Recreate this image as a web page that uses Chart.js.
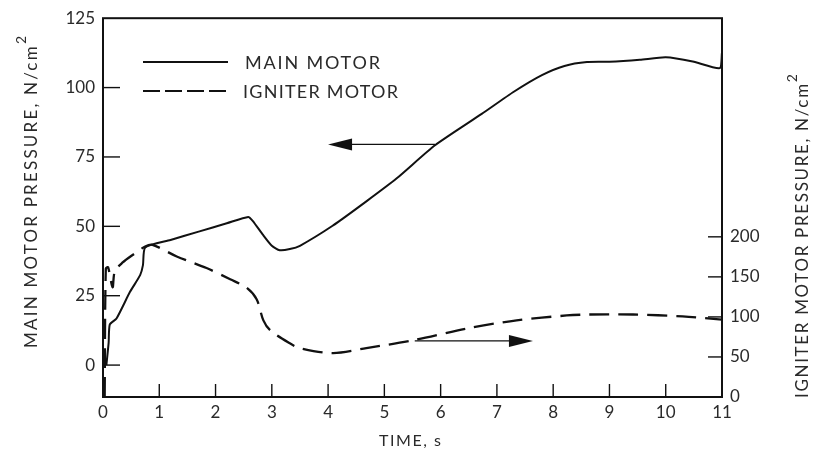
<!DOCTYPE html>
<html><head><meta charset="utf-8">
<script src="https://cdn.jsdelivr.net/npm/chart.js@4/dist/chart.umd.min.js"></script>
<style>html,body{margin:0;padding:0;background:#fff;}#wrap{width:820px;height:462px;}</style>
</head><body><div id="wrap"><canvas id="c" width="820" height="462"></canvas></div>
<script>
// ---- data ----
const mainTime     = [0.06, 0.10, 0.12, 0.24, 0.48, 0.66, 0.71, 0.75, 1.20, 1.70, 2.20, 2.58, 2.66, 2.84, 3.00, 3.14, 3.32, 3.50, 4.08, 4.68, 5.22, 5.90, 6.73, 7.30, 7.80, 8.20, 8.60, 9.00, 9.54, 10.00, 10.48, 10.96, 10.999];
const mainPressure = [0,    8,    14.6, 16.8, 26.4, 32.4, 36.0, 42.4, 45.1, 48.1, 51.1, 53.4, 52.0, 47.0, 43.0, 41.4, 41.8, 43.0, 50.2, 59.0, 67.3, 79.2, 90.5, 98.5, 104.5, 107.8, 109.2, 109.3, 110.0, 110.9, 109.4, 107.0, 112.5];
const igniterTime     = [0.03, 0.05, 0.09, 0.17, 0.21, 0.35, 0.54, 0.75, 0.88, 1.31, 1.84, 2.26, 2.55, 2.73, 2.85, 2.97, 3.32, 3.50, 4.09, 4.68, 5.54, 6.46, 7.35, 8.24, 8.65, 9.42, 10.30, 11.00];
const igniterPressure = [0,    160,  162,  137,  157,  168,  178,  188,  190,  175.5, 161, 147, 136.6, 122, 95.7, 83.4, 67, 61, 54.8, 61, 71.2, 85.5, 95.7, 101.8, 103, 103, 100.6, 96.6];
const timeTicks    = [0,1,2,3,4,5,6,7,8,9,10,11];
const mainTicks    = [0,25,50,75,100,125];
const igniterTicks = [0,50,100,150,200];
const seriesNames  = ['MAIN MOTOR', 'IGNITER MOTOR'];
const xTitle   = 'TIME, s';
const yTitle   = 'MAIN MOTOR PRESSURE, N/cm';
const y2Title  = 'IGNITER MOTOR PRESSURE, N/cm';
const unitSup  = '2';
// arrow annotations in data coordinates: [fromX, toX, y, axis]
const arrowLeft  = [5.90, 4.00, 79.5, 'y'];
const arrowRight = [5.54, 7.64, 70.0, 'y2'];

const FONT = "Lato, 'DejaVu Sans', sans-serif";
const INK = '#111';
const TXT = '#2a2a2a';

const mainPts = mainTime.map((t,i)=>({x:t, y:mainPressure[i]}));
const ignPts  = igniterTime.map((t,i)=>({x:t, y:igniterPressure[i]}));

function line(ctx,x1,y1,x2,y2){ctx.beginPath();ctx.moveTo(x1,y1);ctx.lineTo(x2,y2);ctx.stroke();}

// draws text (optionally with a superscript) spread to a target length, centred at (cx,cy)
function spreadText(ctx, text, sup, cx, cy, rot, size, target){
  ctx.save();
  ctx.translate(cx,cy); ctx.rotate(rot);
  ctx.textBaseline='middle'; ctx.textAlign='left';
  const supSize = Math.round(size*0.85);
  ctx.letterSpacing='0px';
  ctx.font = size+'px '+FONT;
  const w1 = ctx.measureText(text).width;
  ctx.font = supSize+'px '+FONT;
  const w2 = sup ? ctx.measureText(sup).width : 0;
  const n = text.length + (sup?1:0) - 1;
  const sp = Math.max(0,(target - w1 - w2)/n);
  ctx.letterSpacing = sp.toFixed(2)+'px';
  ctx.font = size+'px '+FONT;
  const x0 = -target/2;
  ctx.fillText(text, x0, 0);
  if(sup){
    const wm = ctx.measureText(text).width;
    ctx.font = supSize+'px '+FONT;
    ctx.fillText(sup, x0+wm, -size*0.62);
  }
  ctx.restore();
}

const decor = {
  id:'decor',
  afterDatasetsDraw(chart){
    const {ctx, chartArea:a, scales} = chart;
    ctx.save();
    // frame
    ctx.strokeStyle = INK; ctx.lineWidth = 2;
    ctx.strokeRect(a.left, a.top, a.right-a.left, a.bottom-a.top);
    // inward tick marks
    ctx.lineWidth = 1.4;
    scales.x.ticks.forEach(t=>{const p=scales.x.getPixelForValue(t.value); if(t.value>0 && t.value<11) line(ctx,p,a.bottom,p,a.bottom-13);});
    scales.y.ticks.forEach(t=>{const p=scales.y.getPixelForValue(t.value); if(t.value<125) line(ctx,a.left,p,a.left+17,p);});
    scales.y2.ticks.forEach(t=>{const p=scales.y2.getPixelForValue(t.value); if(t.value>0) line(ctx,a.right,p,a.right-14,p);});
    // arrows
    [arrowLeft, arrowRight].forEach(ar=>{
      const x1=scales.x.getPixelForValue(ar[0]), x2=scales.x.getPixelForValue(ar[1]);
      const yy=scales[ar[3]].getPixelForValue(ar[2]);
      const dir = Math.sign(x2-x1);
      ctx.lineWidth=1.3; ctx.strokeStyle=INK;
      line(ctx,x1,yy,x2-dir*20,yy);
      ctx.fillStyle=INK; ctx.beginPath();
      ctx.moveTo(x2,yy); ctx.lineTo(x2-dir*24,yy-6); ctx.lineTo(x2-dir*24,yy+6); ctx.closePath(); ctx.fill();
    });
    // legend
    ctx.lineWidth=2.2; ctx.strokeStyle=INK;
    line(ctx,143,62,228,62);
    ctx.setLineDash([17,5]); line(ctx,143,91,228,91); ctx.setLineDash([]);
    ctx.fillStyle=TXT;
    spreadText(ctx, seriesNames[0], '', 245+135/2, 63, 0, 18, 135);
    spreadText(ctx, seriesNames[1], '', 243+155/2, 92, 0, 18, 155);
    // axis titles
    spreadText(ctx, yTitle, unitSup, 32, 192, -Math.PI/2, 17, 312);
    spreadText(ctx, y2Title, unitSup, 803, 236, -Math.PI/2, 17, 324);
    spreadText(ctx, xTitle, '', 410, 441, 0, 16, 62);
    ctx.restore();
  }
};

new Chart(document.getElementById('c'), {
  type:'line',
  data:{ datasets:[
    {label:seriesNames[0], data:mainPts, yAxisID:'y', borderColor:INK, borderWidth:2, pointRadius:0, tension:0.2, fill:false},
    {label:seriesNames[1], data:ignPts, yAxisID:'y2', borderColor:INK, borderWidth:2.3, borderDash:[20,9], pointRadius:0, tension:0.3, fill:false}
  ]},
  options:{
    responsive:false, animation:false, devicePixelRatio:1,
    layout:{padding:{top:13,left:0,right:0,bottom:0}},
    plugins:{legend:{display:false}, tooltip:{enabled:false}},
    scales:{
      x:{type:'linear', min:0, max:11, position:'bottom',
         afterBuildTicks:s=>{s.ticks=timeTicks.map(v=>({value:v}));},
         afterFit:s=>{s.height=65;},
         grid:{display:false, drawTicks:false}, border:{display:false},
         ticks:{padding:5, color:TXT, font:{family:FONT,size:17}, maxRotation:0, autoSkip:false}},
      y:{type:'linear', min:-11.5, max:125, position:'left',
         afterBuildTicks:s=>{s.ticks=mainTicks.map(v=>({value:v}));},
         afterFit:s=>{s.width=103;},
         grid:{display:false, drawTicks:false}, border:{display:false},
         ticks:{padding:8, color:TXT, font:{family:FONT,size:17}}},
      y2:{type:'linear', min:0, max:473, position:'right',
         afterBuildTicks:s=>{s.ticks=igniterTicks.map(v=>({value:v}));},
         afterFit:s=>{s.width=98;},
         grid:{display:false, drawTicks:false}, border:{display:false},
         ticks:{padding:8, color:TXT, font:{family:FONT,size:17}}}
    }
  },
  plugins:[decor]
});
</script></body></html>
